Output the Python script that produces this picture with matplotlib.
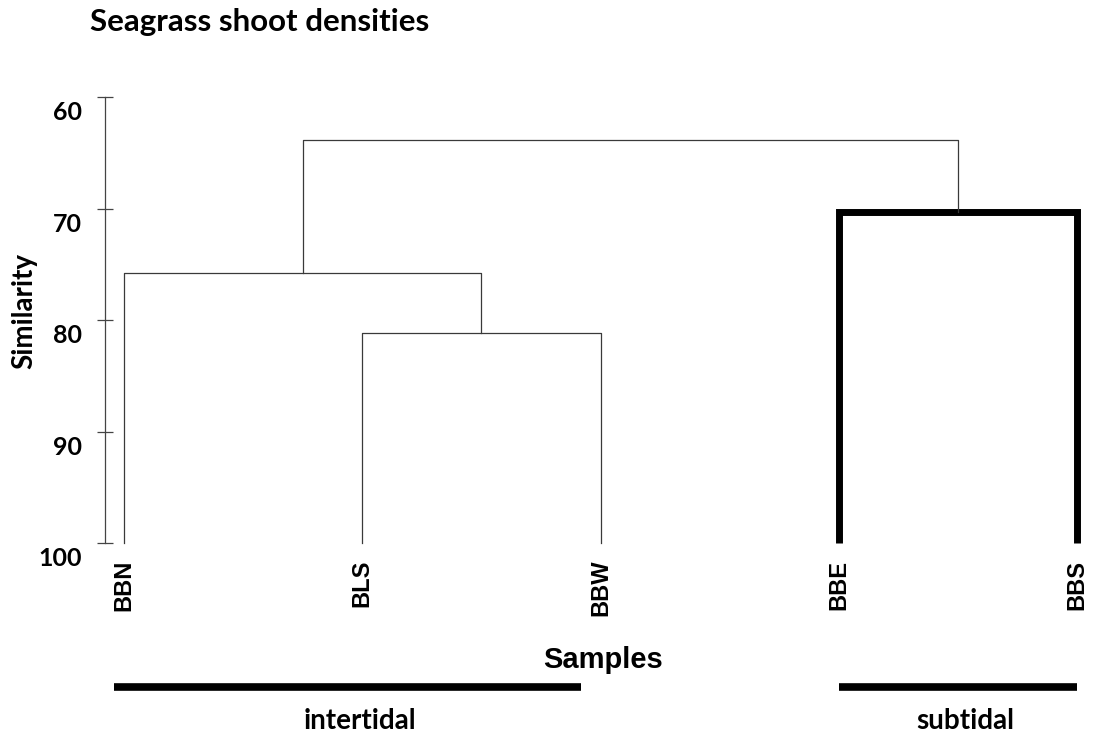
import matplotlib
matplotlib.use('Agg')
from matplotlib import pyplot as plt
from matplotlib.transforms import ScaledTranslation

# leaves in plotting order, and the merges (left id, right id, similarity %)
leaves = ['BBN', 'BLS', 'BBW', 'BBE', 'BBS']
merges = [(1, 2, 81.2), (0, 5, 75.8), (3, 4, 70.3), (6, 7, 63.9)]
thick_nodes = [7]  # the subtidal cluster is drawn heavy
# group name, bar start, bar end, label centre (in leaf units)
groups = [('intertidal', -0.04, 1.92, 0.99), ('subtidal', 3.0, 4.0, 3.53)]
yticks = [60, 70, 80, 90, 100]

fig = plt.figure(figsize=(10.95, 7.4), dpi=100)
W, H = 1095.0, 740.0
ax = fig.add_axes([105 / W, (H - 543) / H, (1090 - 105) / W, (543 - 97) / H])
ax.set_xlim(-19 / 238.25, 4 + 13 / 238.25)
ax.set_ylim(100, 60)

calibri = ['Lato', 'DejaVu Sans']
arial = ['Liberation Sans', 'DejaVu Sans']

# node positions: leaves first, then clusters
xpos = {i: float(i) for i in range(len(leaves))}
ypos = {i: 100.0 for i in range(len(leaves))}
thin = dict(color='#3a3a3a', lw=0.9)
heavy = dict(color='black', lw=5, solid_capstyle='butt', solid_joinstyle='miter')
for k, (a, b, h) in enumerate(merges):
    node = len(leaves) + k
    st = heavy if node in thick_nodes else thin
    ax.plot([xpos[a], xpos[a], xpos[b], xpos[b]],
            [ypos[a], h, h, ypos[b]], clip_on=False, **st)
    xpos[node] = (xpos[a] + xpos[b]) / 2
    ypos[node] = h

for i, name in enumerate(leaves):
    ax.text(i, 101.5, name, rotation=90, ha='center', va='top',
            fontsize=17, fontweight='bold', family=arial)

for spine in ['top', 'right', 'bottom']:
    ax.spines[spine].set_visible(False)
ax.spines['left'].set_color('#444444')
ax.spines['left'].set_linewidth(0.9)
ax.set_xticks([])
ax.set_yticks(yticks)
ax.set_yticklabels([str(t) for t in yticks], fontsize=18, fontweight='bold', family=calibri)
ax.tick_params(axis='y', direction='inout', length=11.5, width=0.9, color='#444444', pad=11)
off = ScaledTranslation(0, -10 / 72, fig.dpi_scale_trans)
for lab in ax.get_yticklabels():
    lab.set_transform(lab.get_transform() + off)

ax.text(2.01, 110.5, 'Samples', ha='center', va='center', fontsize=21,
        fontweight='bold', family=arial)
for name, x0, x1, xl in groups:
    ax.plot([x0, x1], [112.9, 112.9], color='black', lw=5.5, clip_on=False,
            solid_capstyle='butt')
    ax.text(xl, 116.0, name, ha='center', va='center', fontsize=20,
            fontweight='bold', family=calibri)

fig.text(90 / W, 1 - 8 / H, 'Seagrass shoot densities', ha='left', va='top',
         fontsize=22.5, fontweight='bold', family=calibri)
fig.text(24 / W, 1 - 311 / H, 'Similarity', rotation=90, ha='center', va='center',
         fontsize=20, fontweight='bold', family=calibri)

fig.savefig('out.png', dpi=100, facecolor='white')
